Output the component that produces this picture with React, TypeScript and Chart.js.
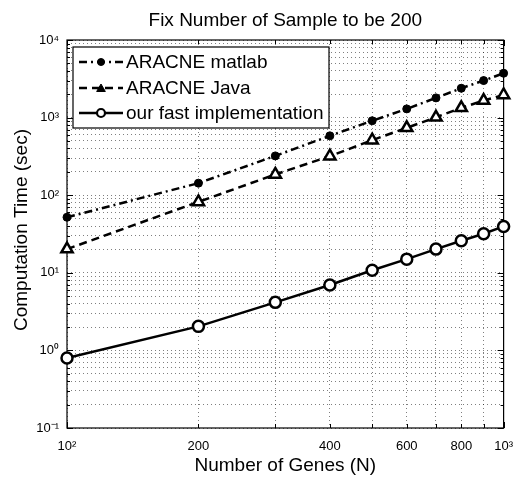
import { useEffect, useRef } from 'react';
import { Chart, registerables } from 'chart.js';
Chart.register(...registerables);

// ---- data ----
const GENES = [100, 200, 300, 400, 500, 600, 700, 800, 900, 1000];
const ARACNE_MATLAB = [52, 143, 321, 582, 910, 1295, 1795, 2390, 3000, 3730];
const ARACNE_JAVA = [20.2, 82, 185, 318, 512, 738, 1010, 1335, 1660, 1960];
const FAST_IMPL = [0.8, 2.04, 4.16, 6.96, 10.8, 15.0, 20.2, 25.9, 31.9, 39.6];

const SERIES_NAMES = ['ARACNE matlab', 'ARACNE Java', 'our fast implementation'];

const X_TICKS = [100, 200, 300, 400, 500, 600, 700, 800, 900, 1000];
const X_TICK_LABELS: Record<number, string> = { 100: '10²', 200: '200', 400: '400', 600: '600', 800: '800', 1000: '10³' };
const Y_DECADES = [0.1, 1, 10, 100, 1000];
const Y_STEPS = [1, 2, 3, 4, 5, 6, 7, 8, 9];
const Y_TICK_LABELS = ['10⁻¹', '10⁰', '10¹', '10²', '10³', '10⁴'];

const TITLE = 'Fix Number of Sample to be 200';
const X_TITLE = 'Number of Genes (N)';
const Y_TITLE = 'Computation Time (sec)';

const FONT = '"Liberation Sans", Arial, Helvetica, sans-serif';

const Y_TICKS: number[] = [];
Y_DECADES.forEach((d) => Y_STEPS.forEach((s) => Y_TICKS.push(+(d * s).toPrecision(6))));
Y_TICKS.push(10000);

const STYLES = [
  { dash: [8, 4, 2, 4], point: 'circle', radius: 4, fill: '#000', bw: 1 },
  { dash: [8, 5], point: 'triangle', radius: 6.5, fill: '#fff', bw: 2.5 },
  { dash: [] as number[], point: 'circle', radius: 5.5, fill: '#fff', bw: 2.5 },
];

function drawMarker(ctx: CanvasRenderingContext2D, style: any, x: number, y: number, r: number, bw: number) {
  ctx.save();
  ctx.setLineDash([]);
  ctx.lineWidth = bw;
  ctx.strokeStyle = '#000';
  ctx.fillStyle = style.fill;
  ctx.beginPath();
  if (style.point === 'triangle') {
    const h = r * 1.5;
    const half = r * Math.sqrt(3) / 2;
    ctx.moveTo(x, y - r);
    ctx.lineTo(x + half, y - r + h);
    ctx.lineTo(x - half, y - r + h);
    ctx.closePath();
  } else {
    ctx.arc(x, y, r, 0, Math.PI * 2);
  }
  ctx.fill();
  ctx.stroke();
  ctx.restore();
}

const decorPlugin = {
  id: 'decor',
  beforeDatasetsDraw(chart: any) {
    const { ctx, chartArea: a, scales } = chart;
    ctx.save();
    ctx.setLineDash([]);
    ctx.strokeStyle = '#000';
    ctx.lineWidth = 1.2;
    ctx.strokeRect(a.left, a.top, a.right - a.left, a.bottom - a.top);
    ctx.lineWidth = 1;
    X_TICKS.forEach((v) => {
      const px = Math.round(scales.x.getPixelForValue(v)) + 0.5;
      const len = v === 100 || v === 1000 ? 6 : 4;
      ctx.beginPath();
      ctx.moveTo(px, a.bottom); ctx.lineTo(px, a.bottom - len);
      ctx.moveTo(px, a.top); ctx.lineTo(px, a.top + len);
      ctx.stroke();
    });
    Y_TICKS.forEach((v) => {
      const py = Math.round(scales.y.getPixelForValue(v)) + 0.5;
      const major = Math.abs(Math.log10(v) - Math.round(Math.log10(v))) < 1e-6;
      const len = major ? 6 : 3;
      ctx.beginPath();
      ctx.moveTo(a.left, py); ctx.lineTo(a.left + len, py);
      ctx.moveTo(a.right, py); ctx.lineTo(a.right - len, py);
      ctx.stroke();
    });
    ctx.restore();
  },
  afterDraw(chart: any) {
    const { ctx, chartArea: a } = chart;
    const cx = (a.left + a.right) / 2;
    ctx.save();
    ctx.fillStyle = '#000';
    ctx.font = `19px ${FONT}`;
    ctx.textAlign = 'center';
    ctx.textBaseline = 'alphabetic';
    ctx.fillText(TITLE, cx, 26);
    ctx.fillText(X_TITLE, cx, 471);
    ctx.save();
    ctx.translate(27, 230);
    ctx.rotate(-Math.PI / 2);
    ctx.fillText(Y_TITLE, 0, 0);
    ctx.restore();

    // legend
    const bx = 73, by = 47, bw = 256, bh = 81;
    ctx.fillStyle = '#fff';
    ctx.fillRect(bx, by, bw, bh);
    ctx.strokeStyle = '#000';
    ctx.lineWidth = 1.2;
    ctx.setLineDash([]);
    ctx.strokeRect(bx, by, bw, bh);
    const rows = [62, 88, 113];
    SERIES_NAMES.forEach((name, i) => {
      const st = STYLES[i];
      const y = rows[i];
      ctx.save();
      ctx.strokeStyle = '#000';
      ctx.lineWidth = 2.5;
      ctx.setLineDash(st.dash);
      ctx.beginPath();
      ctx.moveTo(79, y);
      ctx.lineTo(123, y);
      ctx.stroke();
      ctx.restore();
      if (i === 0) drawMarker(ctx, st, 101, y, 3.5, 1);
      else if (i === 1) drawMarker(ctx, { ...st, fill: '#000' }, 101, y + 1, 5, 1);
      else drawMarker(ctx, st, 101, y, 4, 2.2);
      ctx.fillStyle = '#000';
      ctx.font = `19px ${FONT}`;
      ctx.textAlign = 'left';
      ctx.textBaseline = 'middle';
      ctx.fillText(name, 126, y + 1);
    });
    ctx.restore();
  },
};

export default function App() {
  const ref = useRef<HTMLCanvasElement>(null);
  useEffect(() => {
    document.body.style.margin = '0';
    const canvas = ref.current!;
    const seriesValues = [ARACNE_MATLAB, ARACNE_JAVA, FAST_IMPL];
    const chart = new Chart(canvas, {
      type: 'line',
      data: {
        datasets: SERIES_NAMES.map((name, i) => ({
          label: name,
          data: GENES.map((g, j) => ({ x: g, y: seriesValues[i][j] })),
          borderColor: '#000',
          borderWidth: 2.5,
          borderDash: STYLES[i].dash,
          pointStyle: STYLES[i].point as any,
          pointRadius: STYLES[i].radius,
          pointBackgroundColor: STYLES[i].fill,
          pointBorderColor: '#000',
          pointBorderWidth: STYLES[i].bw,
          fill: false,
          tension: 0,
          clip: false as any,
        })),
      },
      options: {
        responsive: false,
        animation: false,
        events: [],
        layout: { padding: { top: 40, right: 12, left: 0, bottom: 0 } },
        plugins: { legend: { display: false }, title: { display: false }, tooltip: { enabled: false } },
        scales: {
          x: {
            type: 'logarithmic',
            min: 100,
            max: 1000,
            afterBuildTicks: (s: any) => { s.ticks = X_TICKS.map((v) => ({ value: v })); },
            afterFit: (s: any) => { s.height = 50; },
            ticks: {
              autoSkip: false,
              maxRotation: 0,
              padding: 11,
              color: '#000',
              font: { family: FONT, size: 13 },
              callback: (v: any) => X_TICK_LABELS[Math.round(Number(v))] ?? '',
            },
            grid: { color: 'rgba(0,0,0,0.5)', lineWidth: 1, drawTicks: false },
            border: { display: false, dash: [1, 3] },
          },
          y: {
            type: 'logarithmic',
            min: 0.1,
            max: 10000,
            afterBuildTicks: (s: any) => { s.ticks = Y_TICKS.map((v) => ({ value: v })); },
            afterFit: (s: any) => { s.width = 67; },
            ticks: {
              autoSkip: false,
              padding: 8,
              color: '#000',
              font: { family: FONT, size: 13 },
              callback: (v: any) => {
                const l = Math.log10(Number(v));
                if (Math.abs(l - Math.round(l)) > 1e-6) return '';
                return Y_TICK_LABELS[Math.round(l) + 1] ?? '';
              },
            },
            grid: { color: 'rgba(0,0,0,0.5)', lineWidth: 1, drawTicks: false },
            border: { display: false, dash: [1, 3] },
          },
        },
      } as any,
      plugins: [decorPlugin],
    });
    return () => chart.destroy();
  }, []);
  return (
    <div style={{ width: 524, height: 478 }}>
      <canvas ref={ref} width={524} height={478} style={{ display: 'block' }} />
    </div>
  );
}
